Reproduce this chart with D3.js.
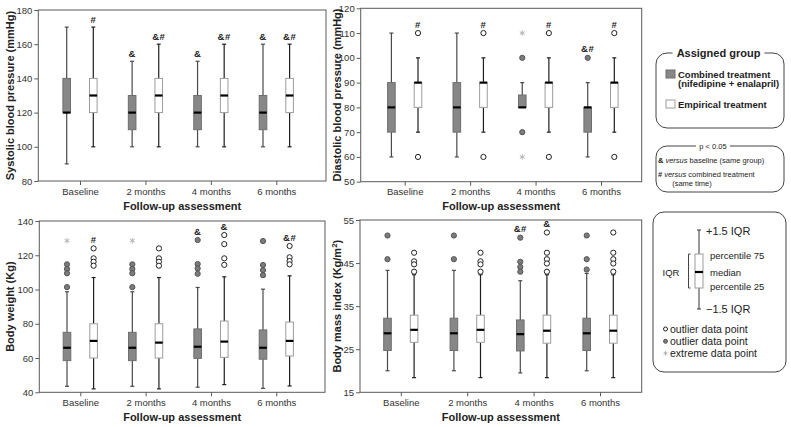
<!DOCTYPE html>
<html>
<head>
<meta charset="utf-8">
<script src="https://cdn.jsdelivr.net/npm/d3@7"></script>
<style>
  body { margin: 0; background: #fff; }
  svg { font-family: "Liberation Sans", Arial, sans-serif; }
</style>
</head>
<body>
<svg width="791" height="427"></svg>
<script>
const TIMES = ['Baseline', '2 months', '4 months', '6 months'];

// each box: [lower whisker, p25, median, p75, upper whisker]
const SBP_COMB = [[90, 120, 120, 140, 170], [100, 110, 120, 130, 150], [100, 110, 120, 130, 150], [100, 110, 120, 130, 160]];
const SBP_EMP = [[100, 120, 130, 140, 170], [100, 120, 130, 140, 160], [100, 120, 130, 140, 160], [100, 120, 130, 140, 160]];
const SBP_COMB_MARK = ['', '&', '&', '&'];
const SBP_EMP_MARK = ['#', '&#', '&#', '&#'];

const DBP_COMB = [[60, 70, 80, 90, 110], [60, 70, 80, 90, 110], [80, 80, 80, 85, 90], [60, 70, 80, 80, 90]];
const DBP_EMP = [[70, 80, 90, 90, 100], [70, 80, 90, 90, 100], [70, 80, 90, 90, 100], [70, 80, 90, 90, 100]];
const DBP_COMB_OUT = [[], [], [100, 70], [100]];
const DBP_COMB_EXT = [[], [], [110, 60], []];
const DBP_EMP_OUT = [[110, 60], [110, 60], [110, 60], [110, 60]];
const DBP_COMB_MARK = ['', '', '', '&#'];
const DBP_EMP_MARK = ['#', '#', '#', '#'];

const BW_COMB = [[43.5, 58.5, 66, 75, 98.7], [43.5, 58.5, 66, 75, 98.7], [43, 59.8, 66.6, 77, 101.2], [42.3, 59.3, 66, 76.4, 100.2]];
const BW_EMP = [[42, 60, 70, 80, 107], [42, 60, 69, 80, 107], [44.5, 60.4, 69.6, 81.6, 107.4], [43.7, 61.2, 70, 81, 108]];
const BW_COMB_OUT = [[114.7, 112, 109.5, 101.4], [114.7, 112, 109.5, 101.4], [128.9, 114.9, 112.3, 109.2], [128.3, 114.3, 111.3, 108.4]];
const BW_COMB_EXT = [[128.5], [128.5], [], []];
const BW_EMP_OUT = [[124, 118.2, 116.2, 113.9], [124, 118.2, 116.2, 113.9], [131.8, 126.5, 118.2, 114.4], [125.4, 118.8, 116.6, 114.7]];
const BW_COMB_MARK = ['', '', '&', ''];
const BW_EMP_MARK = ['#', '', '&', '&#'];

const BMI_COMB = [[20, 24.7, 28.7, 32.2, 43.3], [20, 24.7, 28.7, 32.2, 43.3], [19.5, 24.6, 28.5, 31.8, 40.9], [20, 24.7, 28.7, 32.2, 42.6]];
const BMI_EMP = [[18.4, 26.6, 29.5, 32.9, 42.3], [18.4, 26.6, 29.5, 32.9, 42.3], [18.4, 26.4, 29.3, 32.9, 42.3], [18.4, 26.4, 29.3, 32.9, 42.3]];
const BMI_COMB_OUT = [[51.4, 45.9], [51.4, 45.9], [50.9, 45.3, 44.1, 43], [51.4, 45.9, 43.5]];
const BMI_EMP_OUT = [[47.4, 45.4, 44.7, 43], [47.4, 45.4, 44.7, 43], [52.1, 47.4, 45.9, 44.9, 43], [52.1, 47.4, 45.9, 44.9, 43]];
const BMI_COMB_MARK = ['', '', '&#', ''];
const BMI_EMP_MARK = ['', '', '&', ''];

const svg = d3.select('svg');
const FONT = '"Liberation Sans", Arial, sans-serif';

function drawPanel(p) {
	const g = svg.append('g');
	const x = d3.scalePoint().domain(TIMES).range([p.left + p.padL, p.right - p.padR]);
	const y = d3.scaleLinear().domain(p.domain).range([p.bottom, p.top]);

	g.append('rect')
		.attr('x', p.left).attr('y', p.top)
		.attr('width', p.right - p.left).attr('height', p.bottom - p.top)
		.attr('fill', 'none').attr('stroke', '#5a5a5a');

	const ya = g.append('g').attr('transform', `translate(${p.left},0)`)
		.call(d3.axisLeft(y).tickValues(p.ticks).tickSize(4).tickPadding(2));
	const xa = g.append('g').attr('transform', `translate(0,${p.bottom})`)
		.call(d3.axisBottom(x).tickSize(4).tickPadding(3));
	[ya, xa].forEach(a => {
		a.attr('font-family', FONT).attr('font-size', 9.5);
		a.select('.domain').remove();
		a.selectAll('line').attr('stroke', '#5a5a5a');
		a.selectAll('text').attr('fill', '#333');
	});

	// axis titles
	g.append('text')
		.attr('x', (p.left + p.right) / 2).attr('y', p.bottom + 28.5)
		.attr('text-anchor', 'middle').attr('font-weight', 'bold').attr('font-size', 11)
		.attr('fill', '#222').text('Follow-up assessment');
	const yt = g.append('text')
		.attr('transform', `translate(${p.titleX},${(p.top + p.bottom) / 2}) rotate(-90)`)
		.attr('text-anchor', 'middle').attr('font-weight', 'bold').attr('font-size', 11)
		.attr('fill', '#222').text(p.title);
	if (p.sup) {
		yt.append('tspan').attr('font-size', 8).attr('dy', -4).text(p.sup);
		yt.append('tspan').attr('dy', 4).text(')');
	}

	const groups = [
		{ stats: p.comb, out: p.combOut, ext: p.combExt, marks: p.combMark, dx: -13.3,
			fill: '#878787', stroke: '#6e6e6e', whisker: '#4a4a4a' },
		{ stats: p.emp, out: p.empOut, ext: p.empExt, marks: p.empMark, dx: 13.3,
			fill: '#fff', stroke: '#9c9c9c', whisker: '#1e1e1e' }
	];
	const bw = 7.6;

	groups.forEach(gr => {
		gr.stats.forEach((s, i) => {
			const cx = x(TIMES[i]) + gr.dx;
			const b = g.append('g');
			// whiskers
			b.append('line').attr('x1', cx).attr('x2', cx).attr('y1', y(s[4])).attr('y2', y(s[3]))
				.attr('stroke', gr.whisker).attr('stroke-width', 1.2);
			b.append('line').attr('x1', cx).attr('x2', cx).attr('y1', y(s[1])).attr('y2', y(s[0]))
				.attr('stroke', gr.whisker).attr('stroke-width', 1.2);
			[s[0], s[4]].forEach(v => {
				b.append('line').attr('x1', cx - 2).attr('x2', cx + 2).attr('y1', y(v)).attr('y2', y(v))
					.attr('stroke', gr.whisker).attr('stroke-width', 1.2);
			});
			// box
			b.append('rect').attr('x', cx - bw / 2).attr('y', y(s[3]))
				.attr('width', bw).attr('height', Math.max(0, y(s[1]) - y(s[3])))
				.attr('fill', gr.fill).attr('stroke', gr.stroke).attr('stroke-width', 1);
			b.append('line').attr('x1', cx - bw / 2).attr('x2', cx + bw / 2)
				.attr('y1', y(s[2])).attr('y2', y(s[2]))
				.attr('stroke', '#000').attr('stroke-width', 2.2);

			let top = y(s[4]) - 4;
			const outs = gr.out ? gr.out[i] : [];
			outs.forEach(v => {
				b.append('circle').attr('cx', cx).attr('cy', y(v)).attr('r', 2.6)
					.attr('fill', gr.fill === '#fff' ? '#fff' : '#7c7c7c')
					.attr('stroke', gr.fill === '#fff' ? '#222' : '#555').attr('stroke-width', 1);
				top = Math.min(top, y(v) - 5.5);
			});
			const exts = gr.ext ? gr.ext[i] : [];
			exts.forEach(v => {
				b.append('path')
					.attr('transform', `translate(${cx},${y(v)})`)
					.attr('d', d3.symbol(d3.symbolAsterisk, 22)())
					.attr('fill', 'none').attr('stroke', '#b4b4b4').attr('stroke-width', 1);
				top = Math.min(top, y(v) - 5.5);
			});
			if (gr.marks[i]) {
				b.append('text').attr('x', cx).attr('y', top)
					.attr('text-anchor', 'middle').attr('font-weight', 'bold').attr('font-size', 9.5)
					.attr('letter-spacing', 0.5).attr('fill', '#222').text(gr.marks[i]);
			}
		});
	});
}

drawPanel({ left: 38.3, right: 326, top: 10, bottom: 181, padL: 41.7, padR: 49.7,
	domain: [80, 180], ticks: [80, 100, 120, 140, 160, 180], titleX: 14,
	title: 'Systolic blood pressure (mmHg)',
	comb: SBP_COMB, emp: SBP_EMP, combMark: SBP_COMB_MARK, empMark: SBP_EMP_MARK });

drawPanel({ left: 360.7, right: 641.7, top: 8.3, bottom: 181.7, padL: 44, padR: 40.7,
	domain: [50, 120], ticks: [50, 60, 70, 80, 90, 100, 110, 120], titleX: 341,
	title: 'Diastolic blood pressure (mmHg)',
	comb: DBP_COMB, emp: DBP_EMP, combOut: DBP_COMB_OUT, combExt: DBP_COMB_EXT, empOut: DBP_EMP_OUT,
	combMark: DBP_COMB_MARK, empMark: DBP_EMP_MARK });

drawPanel({ left: 39.3, right: 325, top: 221, bottom: 392.3, padL: 41, padR: 48.7,
	domain: [40, 140], ticks: [40, 60, 80, 100, 120, 140], titleX: 14,
	title: 'Body weight (Kg)',
	comb: BW_COMB, emp: BW_EMP, combOut: BW_COMB_OUT, combExt: BW_COMB_EXT, empOut: BW_EMP_OUT,
	combMark: BW_COMB_MARK, empMark: BW_EMP_MARK });

drawPanel({ left: 360, right: 641.7, top: 220, bottom: 392.3, padL: 40.8, padR: 41.7,
	domain: [15, 55], ticks: [15, 25, 35, 45, 55], titleX: 341,
	title: 'Body mass index (Kg/m', sup: '2',
	comb: BMI_COMB, emp: BMI_EMP, combOut: BMI_COMB_OUT, empOut: BMI_EMP_OUT,
	combMark: BMI_COMB_MARK, empMark: BMI_EMP_MARK });

// ---------- legends ----------
const lg = svg.append('g').attr('fill', '#222');

function roundBox(x0, y0, x1, y1) {
	lg.append('rect').attr('x', x0).attr('y', y0).attr('width', x1 - x0).attr('height', y1 - y0)
		.attr('rx', 11).attr('fill', 'none').attr('stroke', '#444').attr('stroke-width', 1);
}
function gapTitle(cx, cy, w, txt, size, weight) {
	lg.append('rect').attr('x', cx - w / 2).attr('y', cy - 3).attr('width', w).attr('height', 6).attr('fill', '#fff');
	lg.append('text').attr('x', cx).attr('y', cy + size * 0.36).attr('text-anchor', 'middle')
		.attr('font-size', size).attr('font-weight', weight).text(txt);
}

roundBox(656, 53, 784, 128);
gapTitle(718.5, 53, 92, 'Assigned group', 11, 'bold');
lg.append('rect').attr('x', 666).attr('y', 70).attr('width', 9).attr('height', 8)
	.attr('fill', '#878787').attr('stroke', '#6e6e6e');
lg.append('text').attr('x', 678).attr('y', 77.5).attr('font-size', 9.5).attr('font-weight', 'bold').text('Combined treatment');
lg.append('text').attr('x', 678).attr('y', 87).attr('font-size', 9.5).attr('font-weight', 'bold').text('(nifedipine + enalapril)');
lg.append('rect').attr('x', 666).attr('y', 100).attr('width', 9).attr('height', 8)
	.attr('fill', '#fff').attr('stroke', '#9c9c9c');
lg.append('text').attr('x', 678).attr('y', 107.5).attr('font-size', 9.5).attr('font-weight', 'bold').text('Empirical treatment');

roundBox(656, 146, 784, 192);
gapTitle(713, 146, 34, 'p < 0.05', 7.5, 'normal');
const l1 = lg.append('text').attr('x', 658).attr('y', 163).attr('font-size', 7.5);
l1.append('tspan').attr('font-weight', 'bold').text('&');
l1.append('tspan').attr('font-style', 'italic').attr('dx', 2).text('versus');
l1.append('tspan').text(' baseline (same group)');
const l2 = lg.append('text').attr('x', 658).attr('y', 177).attr('font-size', 7.5);
l2.append('tspan').attr('font-weight', 'bold').text('#');
l2.append('tspan').attr('font-style', 'italic').attr('dx', 2).text('versus');
l2.append('tspan').text(' combined treatment');
lg.append('text').attr('x', 692).attr('y', 185.5).attr('font-size', 7.5).attr('text-anchor', 'middle').text('(same time)');

roundBox(653, 212, 786, 372);
const kx = 699;
lg.append('line').attr('x1', kx).attr('x2', kx).attr('y1', 230).attr('y2', 309).attr('stroke', '#333');
[230, 309].forEach(v => lg.append('line').attr('x1', kx - 2).attr('x2', kx + 2).attr('y1', v).attr('y2', v).attr('stroke', '#333'));
lg.append('rect').attr('x', kx - 4).attr('y', 254).attr('width', 8).attr('height', 34)
	.attr('fill', '#fff').attr('stroke', '#9c9c9c');
lg.append('line').attr('x1', kx - 4).attr('x2', kx + 4).attr('y1', 272).attr('y2', 272)
	.attr('stroke', '#000').attr('stroke-width', 2.2);
lg.append('path').attr('d', 'M690.5,254H688.5V288H690.5').attr('fill', 'none').attr('stroke', '#444');
lg.append('text').attr('x', 671).attr('y', 275.5).attr('text-anchor', 'middle').attr('font-size', 9.5).text('IQR');
lg.append('text').attr('x', 706).attr('y', 234.5).attr('font-size', 11).text('+1.5 IQR');
lg.append('text').attr('x', 706).attr('y', 313).attr('font-size', 11).text('\u22121.5 IQR');
lg.append('text').attr('x', 710).attr('y', 258.5).attr('font-size', 9.5).text('percentile 75');
lg.append('text').attr('x', 710).attr('y', 275.5).attr('font-size', 9.5).text('median');
lg.append('text').attr('x', 710).attr('y', 289.5).attr('font-size', 9.5).text('percentile 25');

lg.append('circle').attr('cx', 665.5).attr('cy', 329).attr('r', 2).attr('fill', '#fff').attr('stroke', '#222');
lg.append('circle').attr('cx', 665.5).attr('cy', 341.3).attr('r', 2).attr('fill', '#7c7c7c').attr('stroke', '#555');
lg.append('path').attr('transform', 'translate(665.5,353.3)').attr('d', d3.symbol(d3.symbolAsterisk, 14)())
	.attr('fill', 'none').attr('stroke', '#b4b4b4');
lg.append('text').attr('x', 670).attr('y', 332.5).attr('font-size', 10.5).text('outlier data point');
lg.append('text').attr('x', 670).attr('y', 344.8).attr('font-size', 10.5).text('outlier data point');
lg.append('text').attr('x', 670).attr('y', 356.8).attr('font-size', 10.5).text('extreme data point');
</script>
</body>
</html>
